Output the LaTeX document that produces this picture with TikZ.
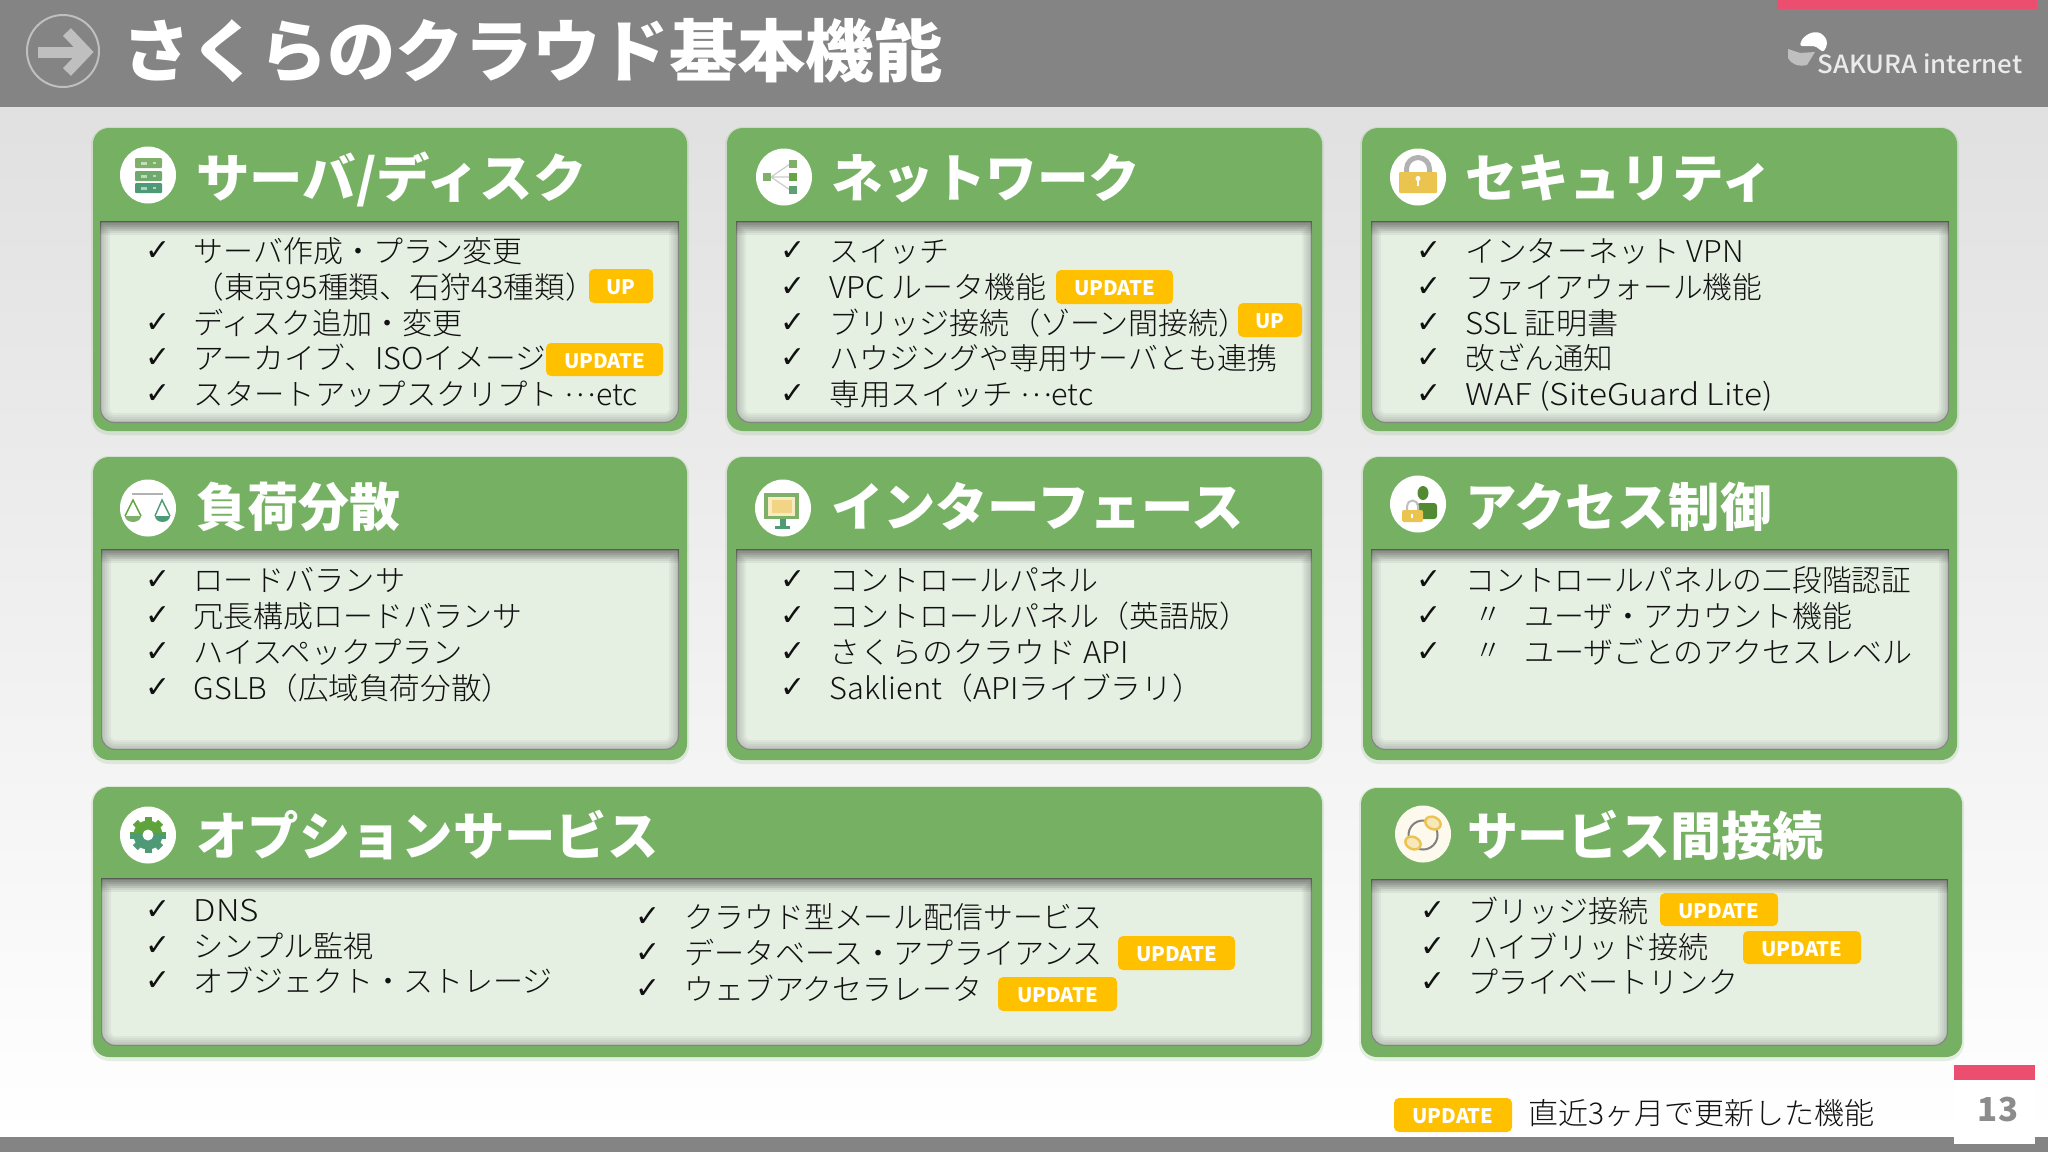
\documentclass[tikz,border=0pt]{standalone}
\usepackage{fontspec}
\usepackage{graphicx}
\setmainfont{Noto Sans CJK JP}
\newfontfamily\jp{Noto Sans CJK JP}
\newfontfamily\jplight{Noto Sans CJK JP Light}
\newfontfamily\logof{Noto Sans CJK JP Medium}
\newfontfamily\chk{DejaVu Sans}
\usetikzlibrary{calc}
\definecolor{hdr}{HTML}{848484}
\definecolor{pinkbar}{HTML}{EC4E70}
\definecolor{cardg}{HTML}{76B163}
\definecolor{panelg}{HTML}{E5EFE2}
\definecolor{badgey}{HTML}{FFC000}
\definecolor{ink}{HTML}{111111}
\definecolor{iconA}{HTML}{7FB069}
\definecolor{iconB}{HTML}{4E9A76}
\definecolor{iconC}{HTML}{5FA33C}
\definecolor{lockY}{HTML}{EBC34F}
\tikzset{
  cardbox/.style={fill=cardg,draw=none,rounded corners=8pt,inner sep=0},
  bodytxt/.style={anchor=base west,inner sep=0,text=ink,font=\jplight\fontsize{15}{15}\selectfont},
  checktxt/.style={anchor=center,inner sep=0,text=ink,font=\chk\fontsize{15}{15}\selectfont},
  cardtitle/.style={anchor=base west,inner sep=0,text=white,font=\jp\bfseries\fontsize{26}{26}\selectfont},
  badgebox/.style={fill=badgey,rounded corners=2.5pt,inner sep=0,text=white,text depth=0pt,text height=8.6pt,align=center,font=\jp\bfseries\fontsize{10}{10}\selectfont},
  iconbg/.style={fill=white,draw=none},
}
\newcounter{tn}
\newcommand{\fitw}[2]{\resizebox{#1}{\height}{#2}}
\newcommand{\mdots}{\raisebox{0.3em}{…}}
% line: check x(o), text x(o), text end(o), y centre(px), text
\newcommand{\bline}[5]{%
  \stepcounter{tn}%
  \pgfmathsetmacro{\wdx}{(#3-#2)*1.306*0.5}%
  \node[checktxt] (c\thetn) at ({#1*1.306},{#4}) {✓};
  \node[bodytxt] (t\thetn) at ({#2*1.306},{#4+11}) {\fitw{\wdx pt}{#5}};
}
% card: x0 y0 x1 y1  px0 py0 px1 py1
\newcommand{\card}[8]{%
  \stepcounter{tn}%
  \fill[cardg,opacity=.18,rounded corners=9pt] ({#1-2},{#2-1}) rectangle ({#3+2},{#4+4});
  \node[cardbox,minimum width={(#3-#1)*0.5pt},minimum height={(#4-#2)*0.5pt}] (card\thetn) at ({(#1+#3)/2},{(#2+#4)/2}) {};
  \def\pp{(#5,#6) -- (#7,#6) [rounded corners=7pt] -- (#7,#8) -- (#5,#8) [sharp corners] -- cycle}
  \fill[panelg] \pp;
  \begin{scope}
    \clip \pp;
    \foreach \w in {2,4,...,10}{\draw[black,opacity=0.04,line width=\w pt] \pp;}
    \foreach \i in {1,...,7}{\fill[black,opacity=0.05] (#5,#6) rectangle (#7,{#6+2*\i});}
    \draw[black,opacity=0.3,line width=1.2pt] \pp;
  \end{scope}
}
\newcommand{\ctitle}[4]{%
  \stepcounter{tn}%
  \pgfmathsetmacro{\wdy}{(#2-#1)*1.306*0.5}%
  \node[cardtitle] (h\thetn) at ({#1*1.306},{#3+19}) {\fitw{\wdy pt}{#4}};
}
% badge: x0 y0 x1 y1 kind
\newcommand{\badge}[5]{%
  \stepcounter{tn}%
  \node[badgebox,minimum width={(#3-#1)*0.5pt},minimum height={(#4-#2)*0.5pt}] (b\thetn) at ({(#1+#3)/2},{(#2+#4)/2}) {\ifx#5U\fitw{14.5pt}{UP}\else\fitw{40.5pt}{UPDATE}\fi};
}
\newcommand{\iconbase}[2]{\fill[iconbg] (#1,#2) ellipse [x radius=28,y radius=28.5];}
\begin{document}
\begin{tikzpicture}[x=0.5pt,y=-0.5pt]
\useasboundingbox (0,0) rectangle (2048,1152);
% background
\fill[white] (0,0) rectangle (2048,1152);
\shade[top color=black!12,middle color=black!3,bottom color=white] (0,107) rectangle (2048,1137);
\fill[hdr] (0,0) rectangle (2048,107);
\fill[pinkbar] (1777,0) rectangle (2037,9);
\fill[hdr] (0,1137) rectangle (2048,1152);
% page tab
\fill[white] (1954,1065) rectangle (2035,1144);
\fill[pinkbar] (1954,1065) rectangle (2035,1080);
\node[inner sep=0,text=black!45,font=\jp\bfseries\fontsize{16.5}{16.5}\selectfont] (pageno) at (1998,1109) {13};
% head icon
\draw[black!25,line width=1pt] (63,51) circle [radius=36];
\draw[black!25,line width=5.5pt] (38,52) -- (84,52);
\draw[black!25,line width=5.5pt] (67,32) -- (86,52) -- (67,72);
% head title
\node[anchor=base west,inner sep=0,text=white,font=\jp\bfseries\fontsize{34}{34}\selectfont] (maintitle) at (122,76) {\fitw{410pt}{さくらのクラウド基本機能}};
% logo
\fill[white,rounded corners=1pt] (1800,46) -- (1801,41) .. controls (1806,34) and (1816,29) .. (1824,36) .. controls (1828,41) and (1827,47) .. (1823,52) -- (1815,46) -- cycle;
\fill[black!25!white] (1788,49) -- (1788,58) .. controls (1791,64) and (1798,67) .. (1807,65) -- (1815,52) -- (1800,53) -- cycle;
\node[anchor=base west,inner sep=0,text=white!92!black,font=\logof\fontsize{12.5}{12.5}\selectfont] (logotext) at (1817,73) {\fitw{102.5pt}{SAKURA internet}};

% --- cards
\card{93}{128}{687}{431}{100}{221}{679}{423}
\card{727}{128}{1322}{431}{736}{221}{1312}{423}
\card{1362}{128}{1957}{431}{1371}{221}{1949}{423}
\card{93}{457}{687}{760}{101}{549}{679}{750}
\card{727}{457}{1322}{760}{736}{549}{1312}{750}
\card{1363}{457}{1957}{760}{1371}{549}{1949}{750}
\card{93}{787}{1322}{1057}{101}{878}{1312}{1046}
\card{1361}{788}{1962}{1057}{1371}{879}{1948}{1046}

% --- titles
\ctitle{150}{449}{178}{サーバ/ディスク}
\ctitle{636}{873}{178}{ネットワーク}
\ctitle{1122}{1357}{178}{セキュリティ}
\ctitle{150}{306}{507}{負荷分散}
\ctitle{636}{952}{507}{インターフェース}
\ctitle{1122}{1356}{507}{アクセス制御}
\ctitle{150}{504}{836}{オプションサービス}
\ctitle{1123}{1396}{836}{サービス間接続}

% --- box 1
\bline{121}{148}{400}{251}{サーバ作成・プラン変更}
\node[bodytxt] (t1b) at ({148*1.306},{287+11}) {\fitw{201pt}{（東京95種類、石狩43種類）}};
\bline{121}{148}{354}{323}{ディスク追加・変更}
\bline{121}{148}{418}{358}{アーカイブ、ISOイメージ}
\bline{121}{148}{488}{394}{スタートアップスクリプト \mdots etc}
\badge{589}{269}{653}{303}{U}
\badge{546}{343}{663}{376}{D}
% --- box 2
\bline{607}{635}{727}{251}{スイッチ}
\bline{607}{635}{801}{287}{VPC ルータ機能}
\bline{607}{635}{956}{323}{ブリッジ接続（ゾーン間接続）}
\bline{607}{635}{978}{358}{ハウジングや専用サーバとも連携}
\bline{607}{635}{837}{394}{専用スイッチ \mdots etc}
\badge{1056}{270}{1173}{304}{D}
\badge{1238}{303}{1302}{337}{U}
% --- box 3
\bline{1094}{1122}{1335}{251}{インターネット VPN}
\bline{1094}{1122}{1349}{287}{ファイアウォール機能}
\bline{1094}{1122}{1239}{323}{SSL 証明書}
\bline{1094}{1122}{1235}{358}{改ざん通知}
\bline{1094}{1122}{1357}{394}{WAF (SiteGuard Lite)}
% --- box 4
\bline{121}{148}{310}{580}{ロードバランサ}
\bline{121}{148}{400}{616}{冗長構成ロードバランサ}
\bline{121}{148}{354}{652}{ハイスペックプラン}
\bline{121}{148}{392}{688}{GSLB（広域負荷分散）}
% --- box 5
\bline{607}{635}{841}{580}{コントロールパネル}
\bline{607}{635}{956}{616}{コントロールパネル（英語版）}
\bline{607}{635}{864}{652}{さくらのクラウド API}
\bline{607}{635}{921}{688}{Saklient（APIライブラリ）}
% --- box 6
\bline{1094}{1122}{1463}{580}{コントロールパネルの二段階認証}
\bline{1094}{1167}{1418}{616}{ユーザ・アカウント機能}
\bline{1094}{1167}{1464}{652}{ユーザごとのアクセスレベル}
\node[inner sep=0,text=ink,font=\jplight\fontsize{14}{14}\selectfont] (ditto1) at ({1140*1.306},616) {〃};
\node[inner sep=0,text=ink,font=\jplight\fontsize{14}{14}\selectfont] (ditto2) at ({1140*1.306},652) {〃};
% --- box 7
\bline{121}{148}{198}{910}{DNS}
\bline{121}{148}{286}{946}{シンプル監視}
\bline{121}{148}{423}{981}{オブジェクト・ストレージ}
\bline{496}{524}{844}{917}{クラウド型メール配信サービス}
\bline{496}{524}{844}{953}{データベース・アプライアンス}
\bline{496}{524}{752}{989}{ウェブアクセラレータ}
\badge{1118}{936}{1235}{970}{D}
\badge{998}{977}{1117}{1011}{D}
% --- box 8
\bline{1097}{1124}{1262}{911}{ブリッジ接続}
\bline{1097}{1124}{1308}{947}{ハイブリッド接続}
\bline{1097}{1124}{1331}{982}{プライベートリンク}
\badge{1660}{893}{1778}{926}{D}
\badge{1743}{931}{1861}{964}{D}
% --- legend
\badge{1394}{1098}{1512}{1132}{D}
\node[bodytxt] (legend) at (1528,1124) {\fitw{173pt}{直近3ヶ月で更新した機能}};

% --- icons
% server
\iconbase{148}{175}
\fill[iconA,rounded corners=.5pt] (135,158) rectangle (162,168);
\fill[iconA!70!iconB,rounded corners=.5pt] (135,171) rectangle (162,181);
\fill[iconB,rounded corners=.5pt] (135,183) rectangle (162,193);
\foreach \yy in {163,176,188}{\fill[white,opacity=.55] (141,{\yy-1.5}) rectangle (147,{\yy+1.5}); \fill[white,opacity=.55] (153,{\yy-1}) rectangle (156,{\yy+1});}
% network
\iconbase{784}{177}
\draw[black!20,line width=.6pt] (771,177) -- (790,164) (771,177) -- (790,177) (771,177) -- (790,190);
\fill[iconA] (763,173) rectangle (771,181);
\fill[iconA] (789,160) rectangle (797,168);
\fill[iconC!80!iconA] (789,173) rectangle (797,181);
\fill[iconB!70!iconA] (789,186) rectangle (797,194);
% lock
\iconbase{1418}{177}
\draw[black!30,line width=2.5pt] (1406.5,172) -- (1406.5,169) arc [start angle=180,end angle=360,radius=11.5] -- (1429.5,172);
\fill[lockY,rounded corners=.5pt] (1399,172) rectangle (1437,193);
\fill[white] (1418,178.5) circle [radius=2.5];
\fill[white] (1416.8,179) rectangle (1419.2,186);
% scales
\iconbase{148}{508}
\draw[black!30,line width=.7pt] (132,494) -- (163,494);
\fill[iconA] (125,516) arc [start angle=180,end angle=0,x radius=8,y radius=6] -- cycle;
\fill[iconB] (155,516) arc [start angle=180,end angle=0,x radius=7.5,y radius=6] -- cycle;
\draw[iconC,line width=.7pt] (125,516) -- (133,500) -- (141,516);
\draw[iconB,line width=.7pt] (155,516) -- (162,500) -- (170,516);
% monitor
\iconbase{783}{508}
\fill[iconA] (764,493) rectangle (799,519);
\fill[lockY!35!white] (768,497) rectangle (795,516);
\fill[lockY!70!white] (772,500) rectangle (792,513);
\fill[iconB] (780,519) rectangle (786,526);
\fill[iconB] (775,526) rectangle (790,529);
% person + lock
\iconbase{1418}{504}
\fill[iconC!85!black] (1423,493) ellipse [x radius=5.5,y radius=7];
\fill[iconC!85!black,rounded corners=1.5pt] (1417,519) -- (1417,503) -- (1437,503) -- (1437,519) -- cycle;
\draw[black!25,line width=1pt] (1407,511) -- (1407,506) arc [start angle=180,end angle=360,radius=5.5] -- (1418,511);
\fill[lockY,rounded corners=1pt] (1402,510) rectangle (1423,522);
\fill[white] (1411,514) rectangle (1413,518);
% gear
\iconbase{148}{835}
\begin{scope}
\clip (120,800) rectangle (176,833);
\fill[iconC] (148,835) circle [radius=14.5];
\foreach \a in {0,45,...,315}{\fill[iconC,rotate around={\a:(148,835)}] (144.5,817) rectangle (151.5,825);}
\end{scope}
\begin{scope}
\clip (120,833) rectangle (176,870);
\fill[iconB] (148,835) circle [radius=14.5];
\foreach \a in {0,45,...,315}{\fill[iconB,rotate around={\a:(148,835)}] (144.5,817) rectangle (151.5,825);}
\end{scope}
\fill[white] (148,835) circle [radius=5.5];
% links
\fill[white!90!lockY] (1423,834) ellipse [x radius=28,y radius=28.5];
\draw[black!50,line width=1pt] (1423,835) circle [radius=14.5];
\fill[white!60!lockY,rotate around={-25:(1413,843)}] (1413,843) ellipse [x radius=9,y radius=7];
\fill[white!60!lockY,rotate around={-25:(1433,823)}] (1433,823) ellipse [x radius=9,y radius=7];
\draw[lockY,line width=1.2pt,rotate around={-25:(1413,843)}] (1413,843) ellipse [x radius=8,y radius=6];
\draw[lockY,line width=1.2pt,rotate around={-25:(1433,823)}] (1433,823) ellipse [x radius=8,y radius=6];
\end{tikzpicture}
\end{document}
